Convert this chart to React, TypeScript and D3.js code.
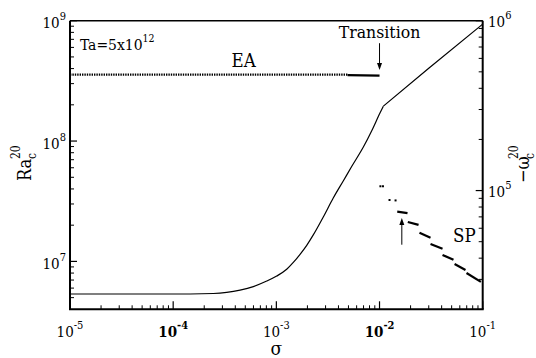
import React from 'react';
import * as d3 from 'd3';

// ---------- data ----------
const sigmaTicks = [1e-5, 1e-4, 1e-3, 1e-2, 1e-1];
const sigmaTickExp = ['-5', '-4', '-3', '-2', '-1'];
const sigmaTickBold = [false, true, false, true, false];
const raTicks = [1e7, 1e8, 1e9];
const raTickExp = ['7', '8', '9'];
const omegaTicks = [1e5, 1e6];
const omegaTickExp = ['5', '6'];

// critical Rayleigh number curve (left axis): smooth branch up to the transition...
const raSigma = [
  1e-5, 1e-4, 1.46e-4, 2.45e-4, 3.3e-4, 4.45e-4, 5.98e-4, 8.07e-4, 1.008e-3, 1.26e-3, 1.46e-3, 1.69e-3, 1.97e-3,
  2.28e-3, 2.85e-3, 3.56e-3, 4.45e-3, 5.37e-3, 6.97e-3, 8.45e-3, 1.01e-2, 1.09e-2,
];
const raValues = [
  5.36e6, 5.36e6, 5.36e6, 5.41e6, 5.53e6, 5.78e6, 6.18e6, 6.87e6, 7.56e6, 8.6e6, 9.8e6, 1.14e7, 1.36e7,
  1.66e7, 2.34e7, 3.36e7, 4.66e7, 6.14e7, 8.91e7, 1.23e8, 1.71e8, 1.95e8,
];
// ...and the straight SP branch after it
const raSpSigma = [1.09e-2, 3e-2, 0.1];
const raSpValues = [1.95e8, 4.03e8, 9.37e8];

// EA branch (left axis)
const eaDottedSigma = [1e-5, 4.9e-3];
const eaDottedValues = [3.56e8, 3.56e8];
const eaSolidSigma = [4.9e-3, 1e-2];
const eaSolidValues = [3.53e8, 3.5e8];

// SP branch frequency (right axis): isolated dots then short dashes
const spDotSigma = [1.02e-2, 1.08e-2, 1.25e-2, 1.43e-2];
const spDotOmega = [1.06e5, 1.06e5, 8.8e4, 8.75e4];
const spSegSigmaStart = [1.484e-2, 1.88e-2, 2.44e-2, 3.12e-2, 4.08e-2, 5.34e-2, 6.97e-2];
const spSegSigmaEnd = [1.867e-2, 2.39e-2, 3.12e-2, 4.08e-2, 5.21e-2, 6.81e-2, 9.6e-2];
const spSegOmegaStart = [7.52e4, 6.53e4, 5.64e4, 4.85e4, 4.18e4, 3.7e4, 3.27e4];
const spSegOmegaEnd = [7.37e4, 6.28e4, 5.27e4, 4.54e4, 3.91e4, 3.41e4, 2.9e4];

// annotations (data coordinates)
const transitionSigma = 1e-2;
const transitionArrowRa = [6.5e8, 3.9e8];
const spArrowSigma = 1.645e-2;
const spArrowOmega = [4.8e4, 6.9e4];

// ---------- layout ----------
const W = 536;
const H = 358;
const left = 70;
const right = 482.7;
const top = 20.7;
const bottom = 309.3;
const FONT = "'DejaVu Serif Condensed', 'DejaVu Serif', serif";

export default function App() {
  const x = d3.scaleLog().domain([1e-5, 1e-1]).range([left, right]);
  const yL = d3.scaleLog().domain([4e6, 1e9]).range([bottom, top]);
  const yR = d3.scaleLog().domain([2e4, 1e6]).range([bottom, top]);

  const raLine = d3
    .line<number>()
    .x((_, i) => x(raSigma[i]))
    .y((d) => yL(d))
    .curve(d3.curveMonotoneX);
  const raSpLine = d3
    .line<number>()
    .x((_, i) => x(raSpSigma[i]))
    .y((d) => yL(d));

  const minor = (lo: number, hi: number) => {
    const out: number[] = [];
    for (let e = Math.floor(Math.log10(lo)); e <= Math.ceil(Math.log10(hi)); e++) {
      for (let m = 2; m <= 9; m++) {
        const v = m * Math.pow(10, e);
        if (v > lo * 1.0001 && v < hi * 0.9999) out.push(v);
      }
    }
    return out;
  };

  const xMinor = minor(1e-5, 1e-1);
  const yLMinor = minor(4e6, 1e9);
  const yRMinor = minor(2e4, 1e6);

  const tx = x(transitionSigma);
  const ta0 = yL(transitionArrowRa[0]);
  const ta1 = yL(transitionArrowRa[1]);
  const sx = x(spArrowSigma);
  const sa0 = yR(spArrowOmega[0]);
  const sa1 = yR(spArrowOmega[1]);

  return (
    <svg
      width={W}
      height={H}
      fontFamily={FONT}
      style={{ position: 'absolute', left: 0, top: 0, background: '#fff' }}
    >
      <rect x={0} y={0} width={W} height={H} fill="#fff" />

      {/* frame */}
      <line x1={left} y1={top} x2={right} y2={top} stroke="#000" strokeWidth={1.5} />
      <line x1={left} y1={top} x2={left} y2={bottom} stroke="#000" strokeWidth={2} />
      <line x1={right} y1={top} x2={right} y2={bottom} stroke="#000" strokeWidth={2} />
      <line x1={left - 1} y1={bottom} x2={right + 1} y2={bottom} stroke="#000" strokeWidth={2} />

      {/* x ticks */}
      {sigmaTicks.map((t) => (
        <line key={'xM' + t} x1={x(t)} x2={x(t)} y1={bottom} y2={bottom - 8} stroke="#000" strokeWidth={1.2} />
      ))}
      {xMinor.map((t) => (
        <line key={'xm' + t} x1={x(t)} x2={x(t)} y1={bottom} y2={bottom - 4} stroke="#000" strokeWidth={1} />
      ))}
      {sigmaTicks.map((t, i) => (
        <text
          key={'xl' + t}
          x={x(t)}
          y={337}
          textAnchor="middle"
          fontSize={15}
          fontWeight={sigmaTickBold[i] ? 'bold' : 'normal'}
        >
          10
          <tspan fontSize={11} dy={-8}>
            {sigmaTickExp[i]}
          </tspan>
        </text>
      ))}

      {/* left ticks */}
      {raTicks.map((t) => (
        <line key={'lM' + t} x1={left} x2={left + 7} y1={yL(t)} y2={yL(t)} stroke="#000" strokeWidth={1.2} />
      ))}
      {yLMinor.map((t) => (
        <line key={'lm' + t} x1={left} x2={left + 4} y1={yL(t)} y2={yL(t)} stroke="#000" strokeWidth={1} />
      ))}
      {raTicks.map((t, i) => (
        <text key={'ll' + t} x={66} y={yL(t) + 7.5} textAnchor="end" fontSize={15}>
          10
          <tspan fontSize={11} dy={-8}>
            {raTickExp[i]}
          </tspan>
        </text>
      ))}

      {/* right ticks */}
      {omegaTicks.map((t) => (
        <line key={'rM' + t} x1={right} x2={right - 7} y1={yR(t)} y2={yR(t)} stroke="#000" strokeWidth={1.2} />
      ))}
      {yRMinor.map((t) => (
        <line key={'rm' + t} x1={right} x2={right - 4} y1={yR(t)} y2={yR(t)} stroke="#000" strokeWidth={1} />
      ))}
      {omegaTicks.map((t, i) => (
        <text key={'rl' + t} x={488} y={yR(t) + 6} fontSize={15}>
          10
          <tspan fontSize={11} dy={-8}>
            {omegaTickExp[i]}
          </tspan>
        </text>
      ))}

      {/* curves */}
      <path d={raLine(raValues) || ''} fill="none" stroke="#000" strokeWidth={1.2} />
      <path d={raSpLine(raSpValues) || ''} fill="none" stroke="#000" strokeWidth={1.2} strokeLinejoin="round" />
      <line
        x1={x(eaDottedSigma[0])}
        x2={x(eaDottedSigma[1])}
        y1={yL(eaDottedValues[0])}
        y2={yL(eaDottedValues[1])}
        stroke="#000"
        strokeWidth={2.2}
        strokeDasharray="1.4,1"
      />
      <line
        x1={x(eaSolidSigma[0])}
        x2={x(eaSolidSigma[1])}
        y1={yL(eaSolidValues[0])}
        y2={yL(eaSolidValues[1])}
        stroke="#000"
        strokeWidth={2.2}
      />
      {spDotSigma.map((s, i) => (
        <rect key={'d' + i} x={x(s) - 1} y={yR(spDotOmega[i]) - 1} width={2} height={2} fill="#000" />
      ))}
      {spSegSigmaStart.map((s, i) => (
        <line
          key={'s' + i}
          x1={x(s)}
          x2={x(spSegSigmaEnd[i])}
          y1={yR(spSegOmegaStart[i])}
          y2={yR(spSegOmegaEnd[i])}
          stroke="#000"
          strokeWidth={2.2}
        />
      ))}

      {/* annotations */}
      <text x={80} y={50} fontSize={15.5}>
        Ta=5x10
        <tspan fontSize={10.5} dy={-8}>
          12
        </tspan>
      </text>
      <text x={231.5} y={67} fontSize={18.5}>
        EA
      </text>
      <text x={tx} y={38.3} fontSize={17.5} textAnchor="middle">
        Transition
      </text>
      <line x1={tx} x2={tx} y1={ta0} y2={ta1 - 4} stroke="#000" strokeWidth={1} />
      <path d={`M${tx - 2.5},${ta1 - 7} L${tx + 2.5},${ta1 - 7} L${tx},${ta1} Z`} fill="#000" />
      <text x={453} y={241.7} fontSize={18.5}>
        SP
      </text>
      <line x1={sx} x2={sx} y1={sa0} y2={sa1 + 4} stroke="#000" strokeWidth={1} />
      <path d={`M${sx - 2.5},${sa1 + 7} L${sx + 2.5},${sa1 + 7} L${sx},${sa1} Z`} fill="#000" />

      {/* axis titles */}
      <text x={(left + right) / 2} y={354.5} fontSize={19} textAnchor="middle">
        σ
      </text>
      <g transform="translate(31,181) rotate(-90)">
        <text x={0} y={0} fontSize={18}>
          Ra
        </text>
        <text x={22} y={5} fontSize={12}>
          c
        </text>
        <text x={22} y={-11} fontSize={12}>
          20
        </text>
      </g>
      <g transform="translate(529,183) rotate(-90)">
        <text x={0} y={0} fontSize={18}>
          −ω
        </text>
        <text x={24} y={5} fontSize={12}>
          c
        </text>
        <text x={24} y={-11} fontSize={12}>
          20
        </text>
      </g>
    </svg>
  );
}
